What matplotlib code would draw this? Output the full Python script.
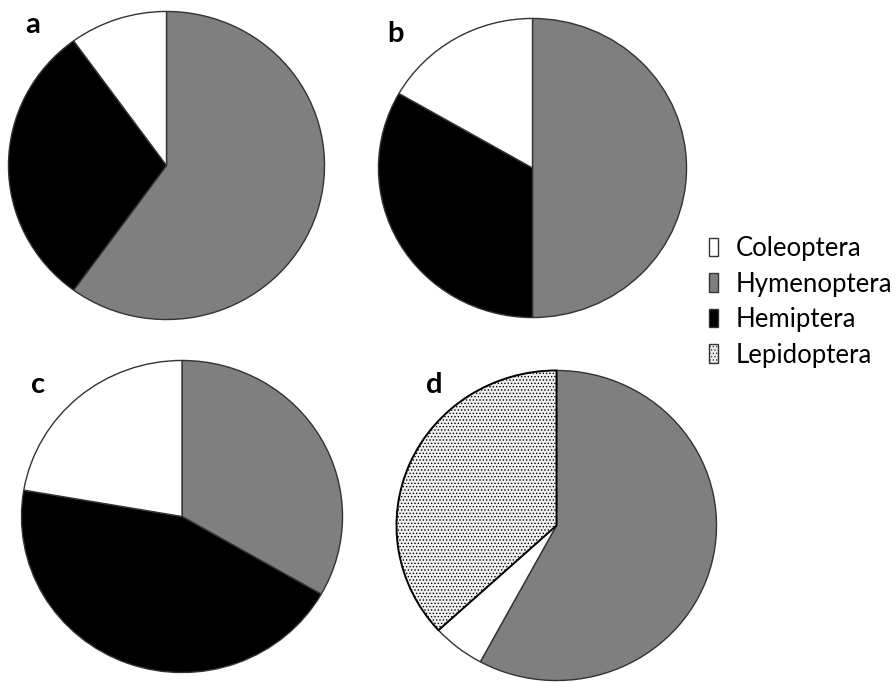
import matplotlib
matplotlib.use("Agg")
import matplotlib.pyplot as plt
from matplotlib.patches import Patch

plt.rcParams['font.family'] = ['Lato', 'DejaVu Sans']
plt.rcParams['hatch.color'] = '#8a8a8a'
plt.rcParams['hatch.linewidth'] = 0.6

W, H = 896, 682

orders = ["Coleoptera", "Hymenoptera", "Hemiptera", "Lepidoptera"]
order_colors = {"Coleoptera": "white", "Hymenoptera": "#7f7f7f",
                "Hemiptera": "black", "Lepidoptera": "#f0f0f0"}

# Proportions per panel, clockwise from 12 o'clock
panel_a_orders = ["Hymenoptera", "Hemiptera", "Coleoptera"]
panel_a_values = [60, 30, 10]
panel_b_orders = ["Hymenoptera", "Hemiptera", "Coleoptera"]
panel_b_values = [50, 33.3, 16.7]
panel_c_orders = ["Hymenoptera", "Hemiptera", "Coleoptera"]
panel_c_values = [33.3, 44.4, 22.3]
panel_d_orders = ["Hymenoptera", "Coleoptera", "Lepidoptera"]
panel_d_values = [57.9, 5.3, 36.8]

# (letter, orders, values, pie box in px (x0, y0, x1, y1), letter baseline (x, y))
panels = [
    ("a", panel_a_orders, panel_a_values, (8, 11, 325, 320), (25, 33)),
    ("b", panel_b_orders, panel_b_values, (378, 18, 687, 318), (387, 42)),
    ("c", panel_c_orders, panel_c_values, (21, 360, 343, 673), (31, 393)),
    ("d", panel_d_orders, panel_d_values, (396, 370, 717, 681), (426, 393)),
]

fig = plt.figure(figsize=(W / 100, H / 100), dpi=100)

for letter, names, values, (x0, y0, x1, y1), (lx, ly) in panels:
    ax = fig.add_axes([x0 / W, 1 - y1 / H, (x1 - x0) / W, (y1 - y0) / H])
    wedges, _ = ax.pie(values, colors=[order_colors[n] for n in names],
                       startangle=90, counterclock=False, radius=1,
                       wedgeprops=dict(edgecolor='#333333', linewidth=1.0))
    for w, n in zip(wedges, names):
        if n == "Lepidoptera":
            w.set_hatch('.....')
            w.set_edgecolor('black')
            w.set_linewidth(1.4)
    ax.set_aspect('auto')
    ax.set_xlim(-1.003, 1.003)
    ax.set_ylim(-1.003, 1.003)
    ax.axis('off')
    fig.text(lx / W, 1 - ly / H, letter, fontsize=21, fontweight='bold',
             ha='left', va='baseline')

handles = []
for n in orders:
    p = Patch(facecolor=order_colors[n], edgecolor='#333333', linewidth=1.0,
              label=n)
    if n == "Lepidoptera":
        p.set_hatch('.....')
    handles.append(p)

fs = 18.5
fpx = fs * 100 / 72
fig.legend(handles=handles, loc='upper left',
           bbox_to_anchor=(709 / W, 1 - 236 / H),
           frameon=False, fontsize=fs, handlelength=9 / fpx,
           handleheight=19 / fpx, handletextpad=18 / fpx,
           labelspacing=0.41, borderpad=0, borderaxespad=0)

fig.savefig("out.png", dpi=100, facecolor='white')
